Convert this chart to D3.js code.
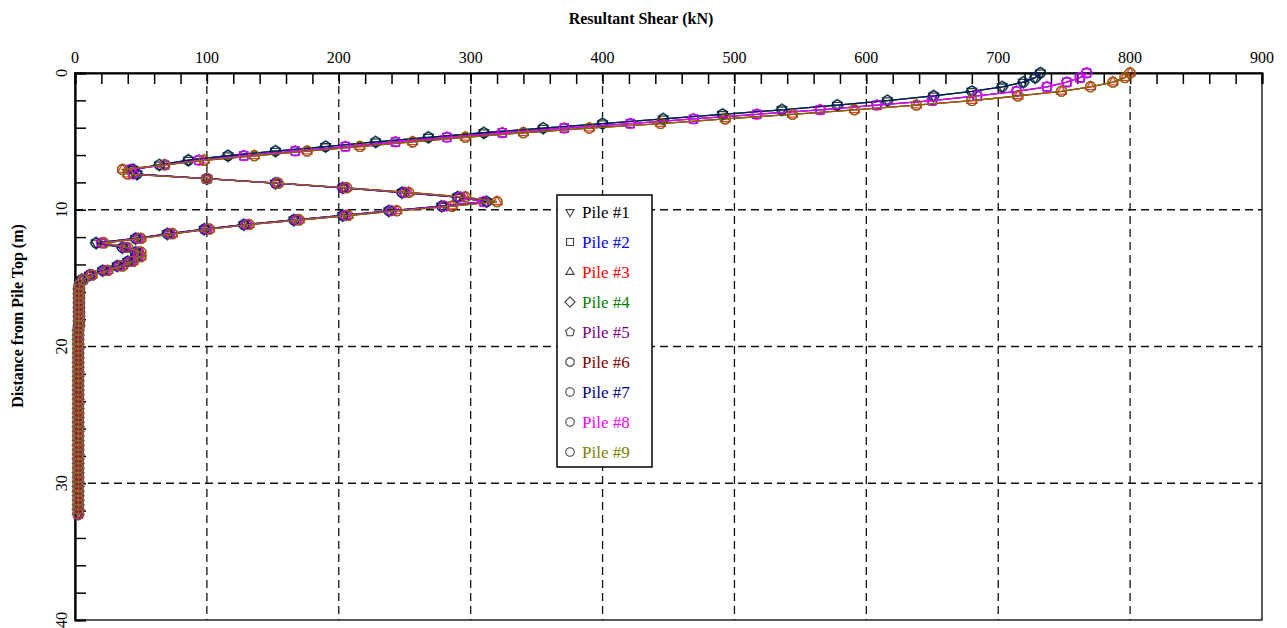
<!DOCTYPE html>
<html>
<head>
<meta charset="utf-8">
<script src="https://cdn.jsdelivr.net/npm/d3@7"></script>
<style>
  body { margin: 0; background: #fff; }
  svg text { font-family: "Liberation Serif", "DejaVu Serif", serif; }
</style>
</head>
<body>
<div id="chart"></div>
<script>
// node depths along the pile (m)
var depths = [
  0, 0.34, 0.67, 1.01, 1.34, 1.68, 2.02, 2.35, 2.69, 3.02,
  3.36, 3.70, 4.03, 4.37, 4.70, 5.04, 5.38, 5.71, 6.05, 6.38,
  6.72, 7.06, 7.39, 7.73, 8.06, 8.40, 8.74, 9.07, 9.41, 9.74,
  10.08, 10.42, 10.75, 11.09, 11.42, 11.76, 12.10, 12.43, 12.77, 13.10,
  13.44, 13.78, 14.11, 14.45, 14.78, 15.12, 15.46, 15.79, 16.13, 16.46,
  16.80, 17.14, 17.47, 17.81, 18.14, 18.48, 18.82, 19.15, 19.49, 19.82,
  20.16, 20.50, 20.83, 21.17, 21.50, 21.84, 22.18, 22.51, 22.85, 23.18,
  23.52, 23.86, 24.19, 24.53, 24.86, 25.20, 25.54, 25.87, 26.21, 26.54,
  26.88, 27.22, 27.55, 27.89, 28.22, 28.56, 28.90, 29.23, 29.57, 29.90,
  30.24, 30.58, 30.91, 31.25, 31.58, 31.92, 32.26
]

// resultant shear (kN), piles in the first row (#1, #4, #7)
var shearRowA = [
  732, 728, 719, 703, 680, 651, 616, 578, 536, 491,
  446, 400, 355, 310, 268, 228, 190, 152, 116, 86,
  64, 44, 47, 100, 152, 203, 248, 290, 312, 278,
  238, 203, 166, 128, 98, 70, 46, 16, 36, 46,
  46, 40, 32, 21, 11, 5, 3.5, 3, 3, 3,
  3, 3, 3, 3, 3, 3, 2.5, 2.5, 2.5, 2.5,
  2.5, 2.5, 2.5, 2.5, 2.5, 2.5, 2.5, 2.5, 2.5, 2.5,
  2.5, 2.5, 2.5, 2.5, 2.5, 2.5, 2.5, 2.5, 2.5, 2.5,
  2.5, 2.5, 2.5, 2.5, 2.5, 2.5, 2.5, 2.5, 2.5, 2.5,
  2.5, 2.5, 2.5, 2.5, 2.5, 2.5, 2.5
]

// second row (#2, #5, #8)
var shearRowB = [
  767, 762, 752, 737, 714, 684, 650, 608, 565, 517,
  469, 421, 371, 324, 282, 243, 205, 167, 128, 94,
  68, 42, 44, 100, 153, 204, 250, 292, 310, 280,
  240, 205, 168, 130, 100, 72, 48, 20, 38, 48,
  48, 42, 34, 23, 12, 6, 3.5, 3, 3, 3,
  3, 3, 3, 3, 3, 3, 2.5, 2.5, 2.5, 2.5,
  2.5, 2.5, 2.5, 2.5, 2.5, 2.5, 2.5, 2.5, 2.5, 2.5,
  2.5, 2.5, 2.5, 2.5, 2.5, 2.5, 2.5, 2.5, 2.5, 2.5,
  2.5, 2.5, 2.5, 2.5, 2.5, 2.5, 2.5, 2.5, 2.5, 2.5,
  2.5, 2.5, 2.5, 2.5, 2.5, 2.5, 2.5
]

// third row (#3, #6, #9)
var shearRowC = [
  800, 796, 787, 770, 748, 715, 680, 638, 591, 544,
  493, 444, 390, 340, 296, 256, 216, 176, 136, 98,
  68, 36, 40, 100, 154, 206, 253, 296, 320, 286,
  244, 207, 170, 132, 102, 74, 50, 22, 40, 50,
  50, 44, 36, 25, 13, 6, 3.5, 3, 3, 3,
  3, 3, 3, 3, 3, 3, 2.5, 2.5, 2.5, 2.5,
  2.5, 2.5, 2.5, 2.5, 2.5, 2.5, 2.5, 2.5, 2.5, 2.5,
  2.5, 2.5, 2.5, 2.5, 2.5, 2.5, 2.5, 2.5, 2.5, 2.5,
  2.5, 2.5, 2.5, 2.5, 2.5, 2.5, 2.5, 2.5, 2.5, 2.5,
  2.5, 2.5, 2.5, 2.5, 2.5, 2.5, 2.5
]

var pileNames = ['Pile #1', 'Pile #2', 'Pile #3', 'Pile #4', 'Pile #5', 'Pile #6', 'Pile #7', 'Pile #8', 'Pile #9']
var pileShear = [shearRowA, shearRowB, shearRowC, shearRowA, shearRowB, shearRowC, shearRowA, shearRowB, shearRowC]
var pileColors = ['#000000', '#0000ff', '#ff0000', '#008000', '#800080', '#800000', '#000080', '#ff00ff', '#808000']
var pileSymbols = ['triDown', 'square', 'triUp', 'diamond', 'pentagon', 'hexagon', 'circle', 'circle', 'circle']

var xTicks = [0, 100, 200, 300, 400, 500, 600, 700, 800, 900]
var yTicks = [0, 10, 20, 30, 40]

var width = 1287,
  height = 628,
  plotLeft = 75,
  plotRight = 1262,
  plotTop = 73,
  plotBottom = 620

var x = d3.scaleLinear().domain([0, 900]).range([plotLeft, plotRight])
var y = d3.scaleLinear().domain([0, 40]).range([plotTop, plotBottom])

var svg = d3
  .select('#chart')
  .append('svg')
  .attr('width', width)
  .attr('height', height)

// grid lines
svg
  .append('g')
  .selectAll('line')
  .data(xTicks.filter(function(d) { return d > 0 && d < 900 }))
  .enter()
  .append('line')
  .attr('x1', function(d) { return x(d) })
  .attr('x2', function(d) { return x(d) })
  .attr('y1', plotTop)
  .attr('y2', plotBottom)
  .attr('stroke', '#111')
  .attr('stroke-width', 1.3)
  .attr('stroke-dasharray', '8,5')

svg
  .append('g')
  .selectAll('line')
  .data(yTicks.filter(function(d) { return d > 0 && d < 40 }))
  .enter()
  .append('line')
  .attr('x1', plotLeft)
  .attr('x2', plotRight)
  .attr('y1', function(d) { return y(d) })
  .attr('y2', function(d) { return y(d) })
  .attr('stroke', '#111')
  .attr('stroke-width', 1.3)
  .attr('stroke-dasharray', '8,5')

// frame
svg
  .append('rect')
  .attr('x', plotLeft)
  .attr('y', plotTop)
  .attr('width', plotRight - plotLeft)
  .attr('height', plotBottom - plotTop)
  .attr('fill', 'none')
  .attr('stroke', '#000')
  .attr('stroke-width', 1.3)

// top axis, ticks pointing inside
var xAxis = d3
  .axisBottom(x)
  .tickValues(d3.range(0, 901, 20))
  .tickSize(11)
  .tickFormat('')
var gx = svg
  .append('g')
  .attr('transform', 'translate(0,' + plotTop + ')')
  .call(xAxis)
gx.select('.domain').attr('stroke-width', 2.2)
gx.selectAll('.tick line').attr('stroke-width', 1.5)

svg
  .append('g')
  .selectAll('text')
  .data(xTicks)
  .enter()
  .append('text')
  .attr('x', function(d) { return x(d) })
  .attr('y', 63)
  .attr('text-anchor', 'middle')
  .style('font-size', '16px')
  .text(function(d) { return d })

// left axis
var yAxis = d3
  .axisRight(y)
  .tickValues(d3.range(0, 41, 2))
  .tickSize(11)
  .tickFormat('')
var gy = svg
  .append('g')
  .attr('transform', 'translate(' + plotLeft + ',0)')
  .call(yAxis)
gy.select('.domain').attr('stroke-width', 2.2)
gy.selectAll('.tick line').attr('stroke-width', 1.5)

svg
  .append('g')
  .selectAll('text')
  .data(yTicks)
  .enter()
  .append('text')
  .attr('transform', function(d) {
    return 'translate(67,' + y(d) + ') rotate(-90)'
  })
  .attr('text-anchor', 'middle')
  .style('font-size', '16px')
  .text(function(d) { return d })

// titles
svg
  .append('text')
  .attr('x', 641)
  .attr('y', 24)
  .attr('text-anchor', 'middle')
  .style('font-size', '16px')
  .style('font-weight', 'bold')
  .text('Resultant Shear (kN)')

svg
  .append('text')
  .attr('transform', 'translate(23,316) rotate(-90)')
  .attr('text-anchor', 'middle')
  .style('font-size', '16px')
  .style('font-weight', 'bold')
  .text('Distance from Pile Top (m)')

// marker shapes
function polygon(n, r, rot) {
  var pts = d3.range(n).map(function(i) {
    var a = rot + (2 * Math.PI * i) / n
    return [r * Math.sin(a), -r * Math.cos(a)]
  })
  return 'M' + pts.join('L') + 'Z'
}

var shapes = {
  triDown: polygon(3, 5.6, Math.PI),
  square: polygon(4, 5.8, Math.PI / 4),
  triUp: polygon(3, 5.6, 0),
  diamond: polygon(4, 6, 0),
  pentagon: polygon(5, 5.4, 0),
  hexagon: polygon(8, 5.2, Math.PI / 8),
  circle: d3.symbol().type(d3.symbolCircle).size(78)()
}

var line = d3
  .line()
  .x(function(d) { return x(d.shear) })
  .y(function(d) { return y(d.depth) })

var plot = svg.append('g')

pileNames.forEach(function(name, i) {
  var pts = depths.map(function(dep, k) {
    return { depth: dep, shear: pileShear[i][k] }
  })
  var g = plot.append('g')
  g.append('path')
    .datum(pts)
    .attr('d', line)
    .attr('fill', 'none')
    .attr('stroke', pileColors[i])
    .attr('stroke-width', 1.3)
    .attr('stroke-opacity', 0.8)
  g.selectAll('path.mk')
    .data(pts)
    .enter()
    .append('path')
    .attr('class', 'mk')
    .attr('d', shapes[pileSymbols[i]])
    .attr('transform', function(d) {
      return 'translate(' + x(d.shear) + ',' + y(d.depth) + ')'
    })
    .attr('fill', 'none')
    .attr('stroke', pileColors[i])
    .attr('stroke-width', 1.3)
    .attr('stroke-opacity', 0.8)
})

// legend
var legend = svg.append('g').attr('transform', 'translate(557,195)')
legend
  .append('rect')
  .attr('width', 95)
  .attr('height', 272)
  .attr('fill', '#fff')
  .attr('stroke', '#000')
  .attr('stroke-width', 1.5)

var items = legend
  .selectAll('g.item')
  .data(pileNames)
  .enter()
  .append('g')
  .attr('class', 'item')
  .attr('transform', function(d, i) {
    return 'translate(0,' + (18 + i * 30) + ')'
  })

items
  .append('path')
  .attr('d', function(d, i) { return shapes[pileSymbols[i]] })
  .attr('transform', 'translate(13,-1) scale(0.85)')
  .attr('fill', 'none')
  .attr('stroke', '#444')
  .attr('stroke-width', 1.3)

items
  .append('text')
  .attr('x', 25)
  .attr('y', 5)
  .style('font-size', '17px')
  .attr('fill', function(d, i) { return pileColors[i] })
  .text(function(d) { return d })
</script>
</body>
</html>
